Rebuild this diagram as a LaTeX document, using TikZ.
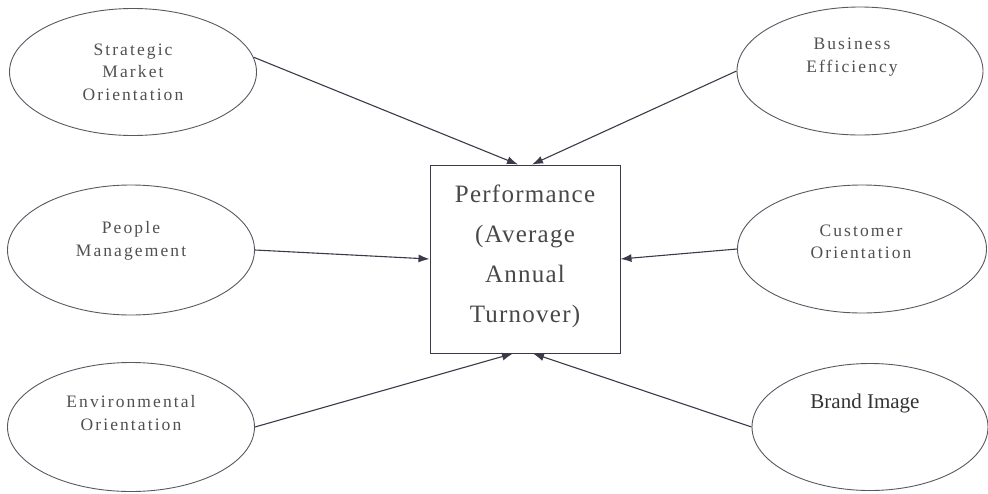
\documentclass[tikz,border=0pt]{standalone}
\usepackage{fontspec}
\setmainfont{Liberation Serif}
\newfontfamily\elfont[LetterSpace=12]{Liberation Serif}
\newfontfamily\boxfont[LetterSpace=5]{Liberation Serif}
\usetikzlibrary{shapes.geometric,arrows.meta}
\definecolor{edgecol}{HTML}{3A3A48}
\definecolor{txtcol}{HTML}{505050}
\tikzset{
  oval/.style={ellipse, draw=edgecol!85, line width=0.9pt, inner sep=0pt},
  ovaltext/.style={align=center, text=txtcol, font=\elfont\fontsize{17.5}{22.5}\selectfont, inner sep=0pt},
  perfbox/.style={rectangle, draw=edgecol, line width=1pt, minimum width=190pt, minimum height=188pt, inner sep=0pt},
  boxtext/.style={align=center, text=txtcol!90!black, font=\boxfont\fontsize{25}{40}\selectfont, inner sep=0pt},
  conn/.style={draw=edgecol, line width=1.1pt, -{Latex[length=11pt,width=8pt]}},
}
\begin{document}
\begin{tikzpicture}[x=1pt,y=-1pt]
\useasboundingbox (0,0) rectangle (988,493);
% ellipses
\node[oval, minimum width=247pt, minimum height=127pt] (smo) at (133,72) {};
\node[oval, minimum width=246pt, minimum height=128pt] (be) at (860,71) {};
\node[oval, minimum width=247pt, minimum height=130pt] (pm) at (131,250) {};
\node[oval, minimum width=249pt, minimum height=128pt] (co) at (862,249) {};
\node[oval, minimum width=247pt, minimum height=129pt] (eo) at (131,427) {};
\node[oval, minimum width=236pt, minimum height=127pt] (bi) at (870,427) {};
% ellipse texts
\node[ovaltext] (smot) at (133,72) {Strategic\\Market\\Orientation};
\node[ovaltext] (bet) at (852,57) {Business\\Efficiency};
\node[ovaltext] (pmt) at (131,241) {People\\Management};
\node[ovaltext] (cot) at (861,242) {Customer\\Orientation};
\node[ovaltext] (eot) at (131,413) {Environmental\\Orientation};
\node[align=center, text=black!80, font=\fontsize{21}{26}\selectfont, inner sep=0pt] (bit) at (865,403) {Brand Image};
% central box
\node[perfbox] (perf) at (525,259) {};
\node[boxtext] (perft) at (525,256) {Performance\\(Average\\Annual\\Turnover)};
% arrow end points on the box
\coordinate (tin1) at ([xshift=-7pt]perf.north);
\coordinate (tin2) at ([xshift=7pt]perf.north);
\coordinate (bin1) at ([xshift=-12pt]perf.south);
\coordinate (bin2) at ([xshift=8pt]perf.south);
% connectors
\draw[conn] (smo.7) -- (tin1);
\draw[conn] (be.west) -- (tin2);
\draw[conn] (pm.east) -- (perf.west);
\draw[conn] (co.west) -- (perf.east);
\draw[conn] (eo.east) -- (bin1);
\draw[conn] (bi.west) -- (bin2);
\end{tikzpicture}
\end{document}
